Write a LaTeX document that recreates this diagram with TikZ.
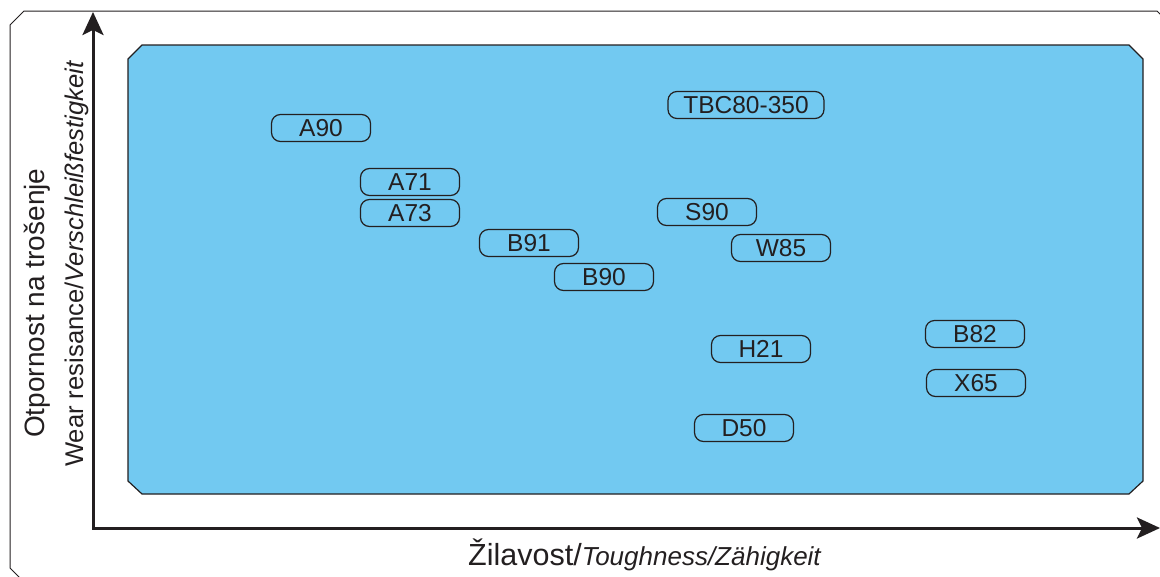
\documentclass[tikz,border=0pt]{standalone}
\usepackage{fontspec}
\setmainfont{Liberation Sans}
\usetikzlibrary{arrows.meta}
\definecolor{panelblue}{RGB}{114,201,241}
\definecolor{inkdark}{RGB}{35,31,32}
\tikzset{
  grade/.style={draw=inkdark, line width=1.2pt, rounded corners=9pt, minimum width=99pt,
    minimum height=27pt, inner sep=0pt, text=inkdark, font=\fontsize{24.5}{24.5}\selectfont},
  axisline/.style={draw=inkdark, line width=3pt, line join=miter},
  bigtxt/.style={inner sep=0pt, text=inkdark, font=\fontsize{28}{28}\selectfont},
  smalltxt/.style={inner sep=0pt, text=inkdark, font=\fontsize{25.6}{25.6}\selectfont}
}
\begin{document}
\begin{tikzpicture}[x=1pt,y=-1pt]
  \useasboundingbox (0,0) rectangle (1160,576);
  \clip (0,0) rectangle (1160,576);
  % outer frame
  \draw[inkdark, line width=1pt] (10,25) -- (24,11) -- (1157,11) -- (1171,25) -- (1171,582) -- (24,582) -- (10,568) -- cycle;
  % blue field
  \draw[fill=panelblue, draw=inkdark, line width=1.2pt] (128,59) -- (142,45) -- (1129,45) -- (1143,59)
    -- (1143,481) -- (1129,494) -- (142,494) -- (128,481) -- cycle;
  % axes
  \draw[axisline, {Stealth[length=23pt,width=21pt,inset=5pt]}-{Stealth[length=23pt,width=21pt,inset=5pt]}]
    (93,12) -- (93,528) -- (1160,528);

  % grades
  \node[grade] (a90) at (321,128) {A90};
  \node[grade, minimum width=156pt] (tbc) at (746,105) {TBC80-350};
  \node[grade] (a71) at (410,182) {A71};
  \node[grade] (a73) at (410,213) {A73};
  \node[grade] (s90) at (707,212) {S90};
  \node[grade] (b91) at (529,243) {B91};
  \node[grade] (w85) at (781,248) {W85};
  \node[grade] (b90) at (604,277) {B90};
  \node[grade] (h21) at (761,349) {H21};
  \node[grade] (b82) at (975,334) {B82};
  \node[grade] (x65) at (976,383) {X65};
  \node[grade] (d50) at (744,428) {D50};

  % axis titles
  \node[bigtxt, rotate=90, anchor=base west] (wearhr) at (45,438) {Otpornost na trošenje};
  \node[smalltxt, rotate=90, anchor=base west] (wearde) at (83,467) {Wear resisance/\textit{Verschleißfestigkeit}};
  \node[bigtxt, anchor=base west, font=\fontsize{30.5}{30.5}\selectfont] (tough) at (468,565)
    {Žilavost/{\fontsize{26}{26}\selectfont\itshape Toughness/Zähigkeit}};
\end{tikzpicture}
\end{document}
